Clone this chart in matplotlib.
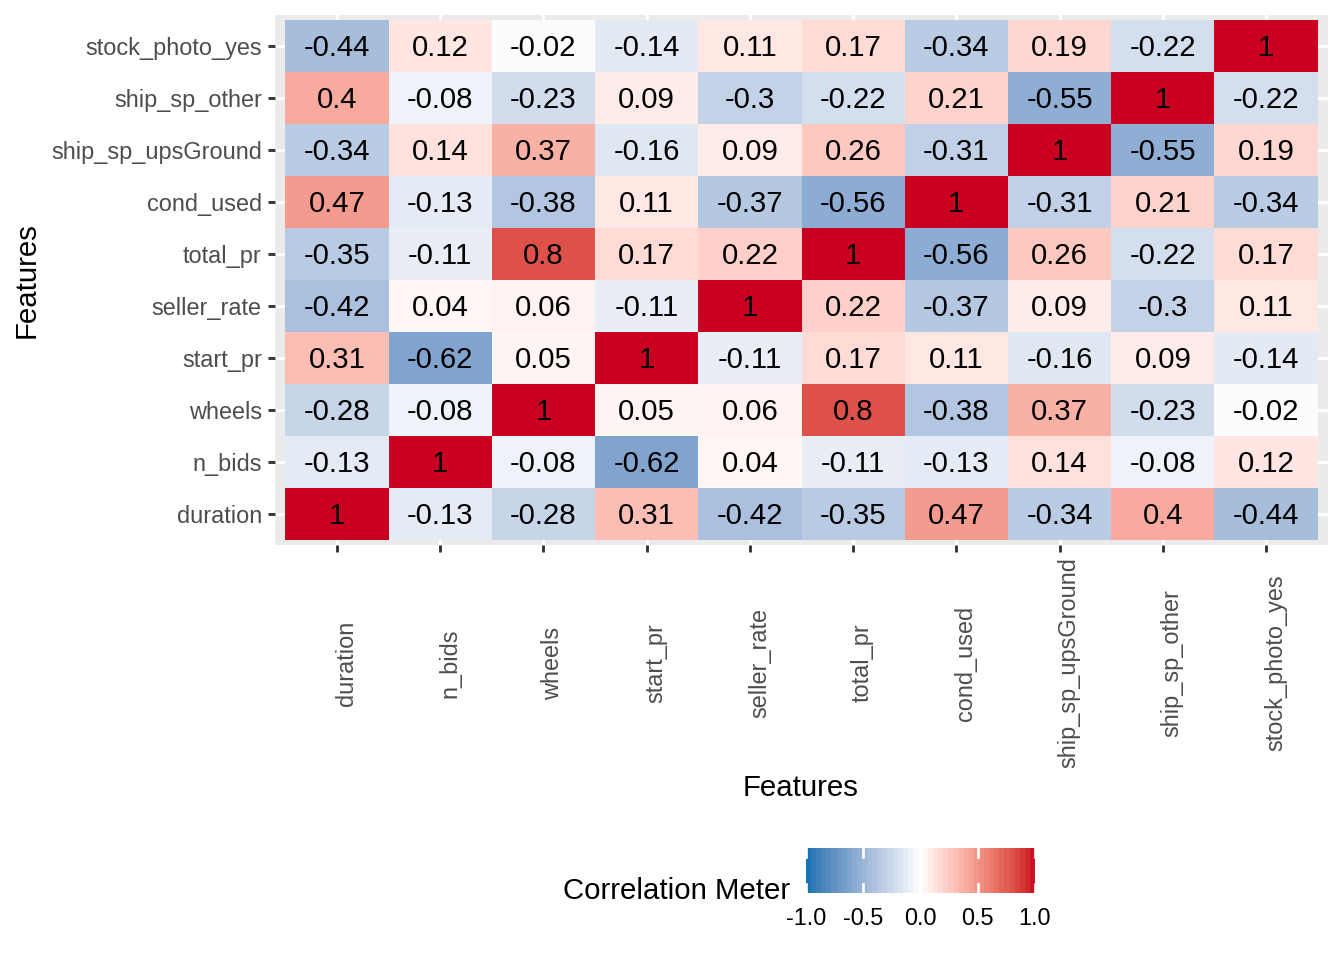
import numpy as np
import matplotlib
matplotlib.use("Agg")
import matplotlib.pyplot as plt
import matplotlib.transforms as mtransforms
from matplotlib.colors import ListedColormap

plt.rcParams['font.family'] = ['Liberation Sans', 'DejaVu Sans']

features = ["duration", "n_bids", "wheels", "start_pr", "seller_rate", "total_pr",
            "cond_used", "ship_sp_upsGround", "ship_sp_other", "stock_photo_yes"]

# rows listed in order of features (row i, column j)
r_duration = [1, -0.13, -0.28, 0.31, -0.42, -0.35, 0.47, -0.34, 0.4, -0.44]
r_n_bids = [-0.13, 1, -0.08, -0.62, 0.04, -0.11, -0.13, 0.14, -0.08, 0.12]
r_wheels = [-0.28, -0.08, 1, 0.05, 0.06, 0.8, -0.38, 0.37, -0.23, -0.02]
r_start_pr = [0.31, -0.62, 0.05, 1, -0.11, 0.17, 0.11, -0.16, 0.09, -0.14]
r_seller_rate = [-0.42, 0.04, 0.06, -0.11, 1, 0.22, -0.37, 0.09, -0.3, 0.11]
r_total_pr = [-0.35, -0.11, 0.8, 0.17, 0.22, 1, -0.56, 0.26, -0.22, 0.17]
r_cond_used = [0.47, -0.13, -0.38, 0.11, -0.37, -0.56, 1, -0.31, 0.21, -0.34]
r_ship_ups = [-0.34, 0.14, 0.37, -0.16, 0.09, 0.26, -0.31, 1, -0.55, 0.19]
r_ship_other = [0.4, -0.08, -0.23, 0.09, -0.3, -0.22, 0.21, -0.55, 1, -0.22]
r_stock_photo = [-0.44, 0.12, -0.02, -0.14, 0.11, 0.17, -0.34, 0.19, -0.22, 1]

corr = np.array([r_duration, r_n_bids, r_wheels, r_start_pr, r_seller_rate,
                 r_total_pr, r_cond_used, r_ship_ups, r_ship_other, r_stock_photo])

legend_ticks = [-1.0, -0.5, 0.0, 0.5, 1.0]

LOW, MID, HIGH = "#0571B0", "#FFFFFF", "#CA0020"

# ---- Lab interpolation (like scales::colour_ramp) ----
def hex2rgb(h):
    h = h.lstrip('#')
    return np.array([int(h[i:i + 2], 16) / 255 for i in (0, 2, 4)])

def srgb2lin(c):
    return np.where(c <= 0.04045, c / 12.92, ((c + 0.055) / 1.055) ** 2.4)

def lin2srgb(c):
    c = np.clip(c, 0, 1)
    return np.where(c <= 0.0031308, 12.92 * c, 1.055 * c ** (1 / 2.4) - 0.055)

M = np.array([[0.4124564, 0.3575761, 0.1804375],
              [0.2126729, 0.7151522, 0.0721750],
              [0.0193339, 0.1191920, 0.9503041]])
WHITE = np.array([0.95047, 1.0, 1.08883])

def rgb2lab(rgb):
    xyz = M @ srgb2lin(rgb) / WHITE
    f = np.where(xyz > 216 / 24389, np.cbrt(xyz), (24389 / 27 * xyz + 16) / 116)
    return np.array([116 * f[1] - 16, 500 * (f[0] - f[1]), 200 * (f[1] - f[2])])

def lab2rgb(lab):
    L, a, b = lab
    fy_ = (L + 16) / 116
    fx_ = fy_ + a / 500
    fz_ = fy_ - b / 200
    f = np.array([fx_, fy_, fz_])
    xyz = np.where(f ** 3 > 216 / 24389, f ** 3, (116 * f - 16) / (24389 / 27)) * WHITE
    lin = np.linalg.solve(M, xyz)
    return lin2srgb(lin)

lab_low, lab_mid, lab_high = rgb2lab(hex2rgb(LOW)), rgb2lab(hex2rgb(MID)), rgb2lab(hex2rgb(HIGH))

def colour_of(v):
    if v < 0:
        t = v + 1
        lab = lab_low + (lab_mid - lab_low) * t
    else:
        lab = lab_mid + (lab_high - lab_mid) * v
    return lab2rgb(lab)

N = 512
cmap = ListedColormap([colour_of(v) for v in np.linspace(-1, 1, N)])

# ---- figure ----
W, H = 1344, 960
fig = plt.figure(figsize=(7, 5), dpi=192)

def fx(px):
    return px / W

def fy(py):
    return 1 - py / H

pl, pr, pt, pb = 275, 1328, 14.8, 545.2
ax = fig.add_axes([fx(pl), fy(pb), fx(pr) - fx(pl), fy(pt) - fy(pb)])
ax.set_facecolor("#EBEBEB")
n = len(features)
ax.set_xlim(-0.6, n - 0.4)
ax.set_ylim(-0.6, n - 0.4)

xs = np.arange(n + 1) - 0.5
ax.pcolormesh(xs, xs, corr, cmap=cmap, vmin=-1, vmax=1, zorder=2)
shift = mtransforms.ScaledTranslation(0, -2 / 192, fig.dpi_scale_trans)
for i in range(n):
    for j in range(n):
        v = corr[i, j]
        lab = f"{v:g}"
        ax.text(j, i, lab, ha='center', va='center', fontsize=11, color='black',
                zorder=3, transform=ax.transData + shift)

ax.set_xticks(range(n))
ax.set_yticks(range(n))
ax.set_xticklabels([])
ax.set_yticklabels(features, fontsize=8.8, color="#4D4D4D")
ax.grid(True, color='white', linewidth=1.07, zorder=1)
ax.set_axisbelow(True)
for s in ax.spines.values():
    s.set_visible(False)
ax.tick_params(axis='both', color="#333333", length=2.75, width=1.07, pad=2.2)

# rotated x labels
for j, name in enumerate(features):
    xd = ax.transData.transform((j, 0))[0]
    xf = fig.transFigure.inverted().transform((xd, 0))[0]
    fig.text(xf - fx(2), fy(663), name, rotation=90, ha='left', va='center',
             fontsize=8.8, color="#4D4D4D")

fig.text(fx(801), fy(788), "Features", ha='center', va='center', fontsize=11)
fig.text(fx(27), fy(280), "Features", ha='center', va='center', fontsize=11, rotation=90)

# ---- colourbar legend ----
cl, cr, ct, cb = 806, 1035, 848, 893
cax = fig.add_axes([fx(cl), fy(cb), fx(cr) - fx(cl), fy(ct) - fy(cb)])
nbin = 45
edges = np.linspace(-1, 1, nbin + 1)
centers = (edges[:-1] + edges[1:]) / 2
cax.pcolormesh(edges, [0, 1], centers[np.newaxis, :], cmap=cmap, vmin=-1, vmax=1)
cax.set_xlim(-1, 1)
cax.set_ylim(0, 1)
for t in legend_ticks:
    cax.plot([t, t], [0, 0.2], color='white', lw=1.0)
    cax.plot([t, t], [0.8, 1], color='white', lw=1.0)
cax.set_xticks([])
cax.set_yticks([])
for s in cax.spines.values():
    s.set_visible(False)
for t in legend_ticks:
    xpx = cl + (t + 1) / 2 * (cr - cl)
    fig.text(fx(xpx), fy(918.5), f"{t:.1f}", ha='center', va='center', fontsize=8.8, color='black')

fig.text(fx(790), fy(899), "Correlation Meter", ha='right', va='baseline', fontsize=11)

fig.savefig("out.png", dpi=192)
